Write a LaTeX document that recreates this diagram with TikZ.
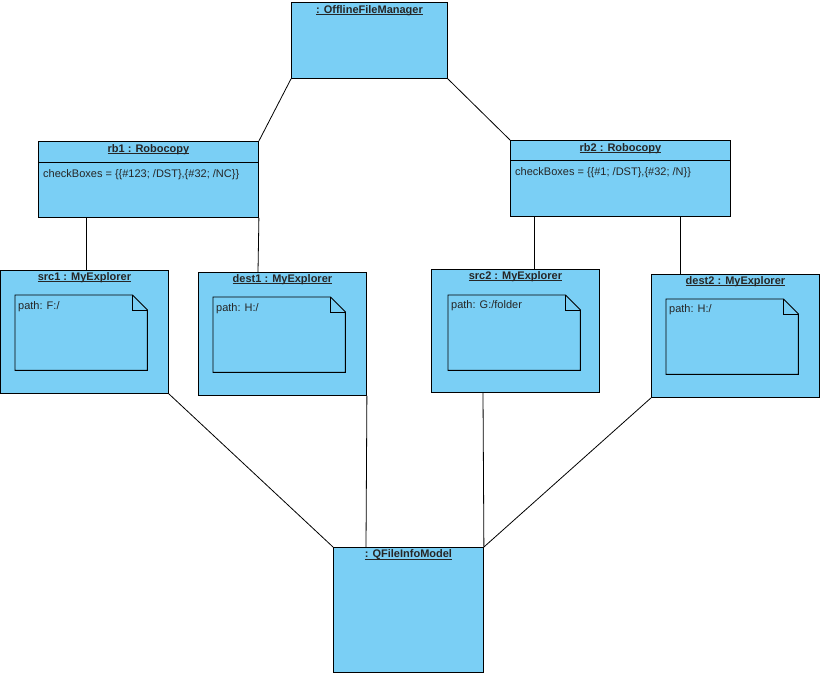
\documentclass[tikz,border=0pt]{standalone}
\usepackage{fontspec}
\setmainfont{Liberation Sans}
\usetikzlibrary{calc}
\definecolor{objfill}{RGB}{122,207,245}
\definecolor{linecol}{RGB}{0,0,0}
\newcommand\ulname[1]{{\setbox0\hbox{#1}\rlap{\rule[-1.3pt]{\wd0}{0.7pt}}\box0}}
\tikzset{
  objbox/.style={draw=linecol, fill=objfill, line width=0.9pt, anchor=north west, inner sep=0pt, minimum width=#1},
  objtitle/.style={font=\fontsize{11}{13}\selectfont\bfseries, inner sep=0pt, anchor=center, text=black!85},
  attrtext/.style={font=\fontsize{11}{13}\selectfont, inner sep=0pt, anchor=west, text=black!85},
  notearea/.style={anchor=north west, inner sep=0pt, minimum width=132pt, minimum height=75pt},
  conn/.style={draw=linecol, line width=0.8pt},
}
\newcommand\drawnotebox[1]{%
  \draw[fill=objfill, line width=0.9pt] (#1.north west) -- ([xshift=-15pt]#1.north east) -- ([yshift=-15pt]#1.north east) -- (#1.south east) -- (#1.south west) -- cycle;
  \draw[line width=0.9pt] ([xshift=-15pt]#1.north east) -- ([xshift=-15pt,yshift=-15pt]#1.north east) -- ([yshift=-15pt]#1.north east);
}
\begin{document}
\begin{tikzpicture}[x=1pt,y=-1pt]
\useasboundingbox (0,0) rectangle (823,674);
% boxes
\node[objbox=156pt, minimum height=76pt] (ofm) at (291,2) {};
\node[objtitle] (ofmt) at ($(ofm.north)+(0,9)$) {\ulname{: OfflineFileManager}};

\node[objbox=220pt, minimum height=76pt] (rb1) at (38,141) {};
\node[objtitle] (rb1t) at ($(rb1.north)+(0,9)$) {\ulname{rb1 : Robocopy}};
\draw[line width=0.9pt] ($(rb1.north west)+(0,21)$) -- ($(rb1.north east)+(0,21)$);
\node[attrtext] (rb1a) at ($(rb1.north west)+(5,34)$) {checkBoxes = \{\{\#123; /DST\},\{\#32; /NC\}\}};

\node[objbox=220pt, minimum height=76pt] (rb2) at (510,140) {};
\node[objtitle] (rb2t) at ($(rb2.north)+(0,9)$) {\ulname{rb2 : Robocopy}};
\draw[line width=0.9pt] ($(rb2.north west)+(0,20)$) -- ($(rb2.north east)+(0,20)$);
\node[attrtext] (rb2a) at ($(rb2.north west)+(5,33)$) {checkBoxes = \{\{\#1; /DST\},\{\#32; /N\}\}};

\node[objbox=168pt, minimum height=123pt] (src1) at (0,270) {};
\node[objtitle] (src1t) at ($(src1.north)+(0,8)$) {\ulname{src1 : MyExplorer}};
\node[notearea] (n1) at (15,295) {};
\drawnotebox{n1}
\node[attrtext] (n1t) at ($(n1.north west)+(3,12)$) {path: F:/};

\node[objbox=168pt, minimum height=123pt] (dest1) at (198,272) {};
\node[objtitle] (dest1t) at ($(dest1.north)+(0,8)$) {\ulname{dest1 : MyExplorer}};
\node[notearea] (n2) at (213,297) {};
\drawnotebox{n2}
\node[attrtext] (n2t) at ($(n2.north west)+(3,12)$) {path: H:/};

\node[objbox=168pt, minimum height=123pt] (src2) at (431,269) {};
\node[objtitle] (src2t) at ($(src2.north)+(0,8)$) {\ulname{src2 : MyExplorer}};
\node[notearea] (n3) at (448,295) {};
\drawnotebox{n3}
\node[attrtext] (n3t) at ($(n3.north west)+(3,11)$) {path: G:/folder};

\node[objbox=168pt, minimum height=123pt] (dest2) at (651,274) {};
\node[objtitle] (dest2t) at ($(dest2.north)+(0,8)$) {\ulname{dest2 : MyExplorer}};
\node[notearea] (n4) at (666,299) {};
\drawnotebox{n4}
\node[attrtext] (n4t) at ($(n4.north west)+(3,11)$) {path: H:/};

\node[objbox=150pt, minimum height=125pt] (qfim) at (333,547) {};
\node[objtitle] (qfimt) at ($(qfim.north)+(0,8)$) {\ulname{: QFileInfoModel}};

% connectors
\draw[conn] (ofm.south west) -- (rb1.north east);
\draw[conn] (ofm.south east) -- (rb2.north west);
\draw[conn] ($(rb1.south west)+(48,0)$) -- ($(src1.north west)+(86,0)$);
\draw[conn] (rb1.south east) -- ($(dest1.north west)+(60,0)$);
\draw[conn] ($(rb2.south west)+(24,0)$) -- ($(src2.north west)+(103,0)$);
\draw[conn] ($(rb2.south west)+(170,0)$) -- ($(dest2.north west)+(29,0)$);
\draw[conn] (src1.south east) -- (qfim.north west);
\draw[conn] (dest1.south east) -- ($(qfim.north west)+(33,0)$);
\draw[conn] ($(src2.south west)+(52,0)$) -- (qfim.north east);
\draw[conn] (dest2.south west) -- (qfim.north east);
\end{tikzpicture}
\end{document}
